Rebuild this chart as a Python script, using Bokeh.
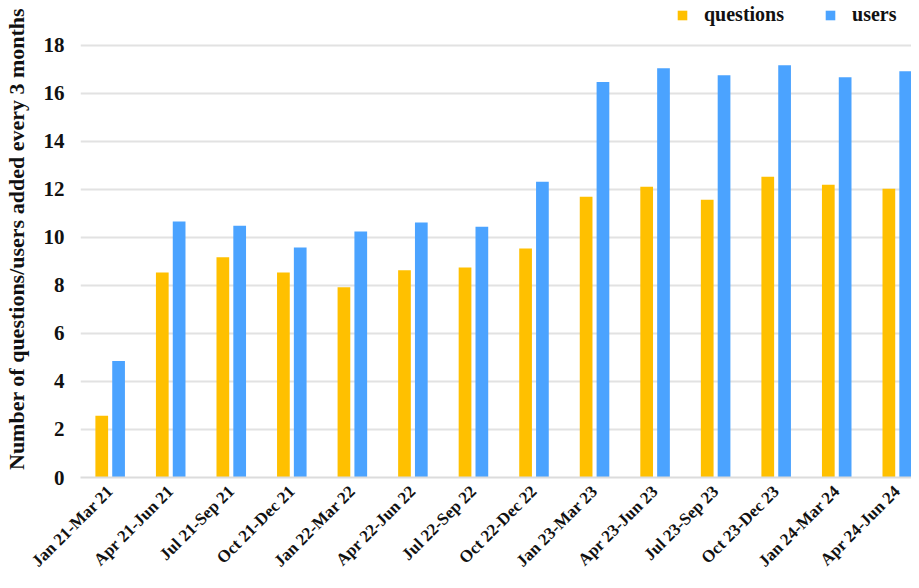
import math
from bokeh.plotting import figure
from bokeh.models import Range1d, FixedTicker, Legend, LegendItem, ColumnDataSource
from bokeh.transform import dodge
from bokeh.embed import file_html
from bokeh.resources import INLINE

periods = ["Jan 21-Mar 21", "Apr 21-Jun 21", "Jul 21-Sep 21", "Oct 21-Dec 21",
           "Jan 22-Mar 22", "Apr 22-Jun 22", "Jul 22-Sep 22", "Oct 22-Dec 22",
           "Jan 23-Mar 23", "Apr 23-Jun 23", "Jul 23-Sep 23", "Oct 23-Dec 23",
           "Jan 24-Mar 24", "Apr 24-Jun 24"]
questions = [2.57, 8.54, 9.17, 8.54, 7.92, 8.63, 8.75, 9.54, 11.70, 12.11, 11.57, 12.53, 12.19, 12.03]
users = [4.85, 10.66, 10.49, 9.58, 10.25, 10.62, 10.45, 12.32, 16.47, 17.05, 16.76, 17.17, 16.67, 16.92]
y_ticks = [0, 2, 4, 6, 8, 10, 12, 14, 16, 18]

YELLOW = "#FFC000"
BLUE = "#4BA3FF"
FONT = "Liberation Serif"

xs = list(range(len(periods)))
src = ColumnDataSource(dict(x=xs, q=questions, u=users))

p = figure(width=911, height=580, output_backend="svg", toolbar_location=None,
           x_range=Range1d(-0.49, 13.235), y_range=Range1d(0, 19.87),
           min_border_left=20, min_border_right=0, min_border_top=0, min_border_bottom=10)
p.outline_line_color = None

rq = p.vbar(x=dodge("x", -0.139, range=p.x_range), top="q", width=0.21, bottom=0,
            source=src, fill_color=YELLOW, line_color=None)
ru = p.vbar(x=dodge("x", 0.139, range=p.x_range), top="u", width=0.21, bottom=0,
            source=src, fill_color=BLUE, line_color=None)

# axes
p.xaxis.ticker = FixedTicker(ticks=xs)
p.xaxis.major_label_overrides = {i: lab for i, lab in enumerate(periods)}
p.xaxis.major_label_orientation = math.pi / 4
p.xaxis.major_label_text_font = FONT
p.xaxis.major_label_text_font_style = "bold"
p.xaxis.major_label_text_font_size = "17px"
p.xaxis.major_label_text_line_height = 1.0
p.xaxis.major_label_text_color = "#111111"
p.xaxis.major_tick_line_color = None
p.xaxis.minor_tick_line_color = None
p.xaxis.axis_line_color = "#dcdcdc"
p.xaxis.axis_line_width = 2
p.xaxis.major_label_standoff = 5

p.yaxis.ticker = FixedTicker(ticks=y_ticks)
p.yaxis.major_label_text_font = FONT
p.yaxis.major_label_text_font_style = "bold"
p.yaxis.major_label_text_font_size = "21px"
p.yaxis.major_label_text_color = "#111111"
p.yaxis.major_tick_line_color = None
p.yaxis.minor_tick_line_color = None
p.yaxis.axis_line_color = None
p.yaxis.major_label_standoff = 10
p.yaxis.axis_label = "Number of questions/users added every 3 months"
p.yaxis.axis_label_text_font = FONT
p.yaxis.axis_label_text_font_style = "bold"
p.yaxis.axis_label_text_font_size = "22px"
p.yaxis.axis_label_text_color = "#111111"
p.yaxis.axis_label_standoff = 12

p.xgrid.grid_line_color = None
p.ygrid.grid_line_color = "#e2e2e2"
p.ygrid.grid_line_width = 2

legend = Legend(items=[LegendItem(label="questions", renderers=[rq]),
                       LegendItem(label="users", renderers=[ru])],
                orientation="horizontal", location=(596, 451))
legend.label_text_font = FONT
legend.label_text_font_style = "bold"
legend.label_text_font_size = "20px"
legend.label_text_color = "#111111"
legend.glyph_width = 12
legend.glyph_height = 12
legend.label_standoff = 16
legend.spacing = 40
legend.padding = 0
legend.margin = 0
legend.border_line_color = None
legend.background_fill_alpha = 0
p.add_layout(legend)

open("out.html", "w").write(file_html(p, INLINE))
